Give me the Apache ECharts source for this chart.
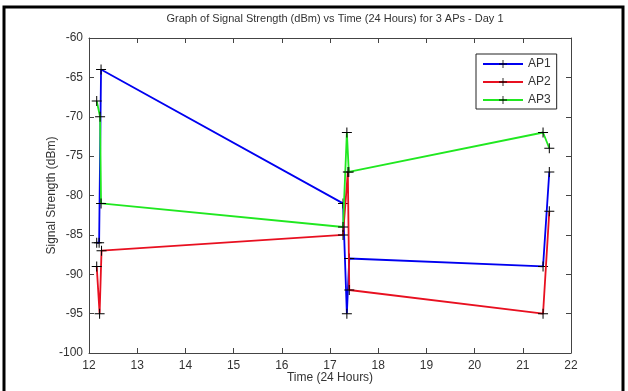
<!DOCTYPE html>
<html>
<head>
<meta charset="utf-8">
<script src="https://cdn.jsdelivr.net/npm/echarts@6/dist/echarts.min.js"></script>
<style>
  html, body { margin: 0; padding: 0; background: #fff; }
  #chart { width: 628px; height: 391px; }
</style>
</head>
<body>
<div id="chart"></div>
<script>
// readings per access point: [hour, dBm]
const ap1Time = [12.16, 12.21, 12.25, 17.27, 17.35, 17.40, 21.42, 21.55];
const ap1Vals = [-86, -86, -64, -81, -95, -88, -89, -77];
const ap2Time = [12.16, 12.22, 12.26, 17.27, 17.37, 17.40, 21.42, 21.55];
const ap2Vals = [-89, -95, -87, -85, -77, -92, -95, -82];
const ap3Time = [12.16, 12.23, 12.25, 17.27, 17.35, 17.39, 21.42, 21.55];
const ap3Vals = [-68, -70, -81, -84, -72, -77, -72, -74];

const names = ['AP1', 'AP2', 'AP3'];
const colors = ['#0000f0', '#e81020', '#20e820'];

const pair = (t, v) => t.map((x, i) => [x, v[i]]);
const seriesData = [pair(ap1Time, ap1Vals), pair(ap2Time, ap2Vals), pair(ap3Time, ap3Vals)];

// plus marker like matlab '+'
const plus = 'path://M4.5,0H5.5V4.5H10V5.5H5.5V10H4.5V5.5H0V4.5H4.5Z';

const font = 'Liberation Sans';
const axisColor = '#444';
const textColor = '#333';

const chart = echarts.init(document.getElementById('chart'));

const baseX = {
    type: 'value', min: 12, max: 22, interval: 1,
    axisLine: { show: true, lineStyle: { color: axisColor, width: 1 } },
    axisTick: { show: true, inside: true, length: 5, lineStyle: { color: axisColor } },
    splitLine: { show: false }
};
const baseY = {
    type: 'value', min: -100, max: -60, interval: 5,
    axisLine: { show: true, lineStyle: { color: axisColor, width: 1 } },
    axisTick: { show: true, inside: true, length: 5, lineStyle: { color: axisColor } },
    splitLine: { show: false }
};

chart.setOption({
    backgroundColor: '#fff',
    animation: false,
    title: {
        text: 'Graph of Signal Strength (dBm) vs Time (24 Hours) for 3 APs - Day 1',
        left: 330, top: 8, textAlign: 'center',
        textStyle: { fontFamily: font, fontSize: 11, fontWeight: 'normal', color: textColor }
    },
    legend: {
        orient: 'vertical', left: 476, top: 54,
        itemWidth: 40, itemHeight: 10, itemGap: 6,
        padding: [4, 6, 3, 6],
        borderColor: '#222', borderWidth: 1, backgroundColor: '#fff',
        textStyle: { fontFamily: font, fontSize: 12, color: textColor },
        data: names
    },
    grid: { left: 89, right: 57, top: 38, bottom: 38 },
    xAxis: [
        Object.assign({}, baseX, {
            position: 'bottom',
            name: 'Time (24 Hours)', nameLocation: 'middle', nameGap: 19,
            nameMoveOverlap: false,
            nameTextStyle: { fontFamily: font, fontSize: 12, color: textColor },
            axisLabel: { fontFamily: font, fontSize: 12, color: textColor, margin: 7 }
        }),
        Object.assign({}, baseX, { position: 'top', axisLabel: { show: false } })
    ],
    yAxis: [
        Object.assign({}, baseY, {
            position: 'left',
            name: 'Signal Strength (dBm)', nameLocation: 'middle', nameGap: 31,
            nameMoveOverlap: false,
            nameTextStyle: { fontFamily: font, fontSize: 12, color: textColor },
            axisLabel: { fontFamily: font, fontSize: 12, color: textColor, margin: 6 }
        }),
        Object.assign({}, baseY, { position: 'right', axisLabel: { show: false } })
    ],
    graphic: [{
        type: 'rect', silent: true,
        shape: { x: 4, y: 7, width: 619, height: 400 },
        style: { fill: 'none', stroke: '#000', lineWidth: 3 }
    }],
    series: names.map((n, i) => ({
        name: n,
        type: 'line',
        data: seriesData[i],
        symbol: plus,
        symbolSize: 10,
        showAllSymbol: true,
        itemStyle: { color: '#000' },
        lineStyle: { color: colors[i], width: 1.8 },
        z: 2 + i
    }))
});
</script>
</body>
</html>
